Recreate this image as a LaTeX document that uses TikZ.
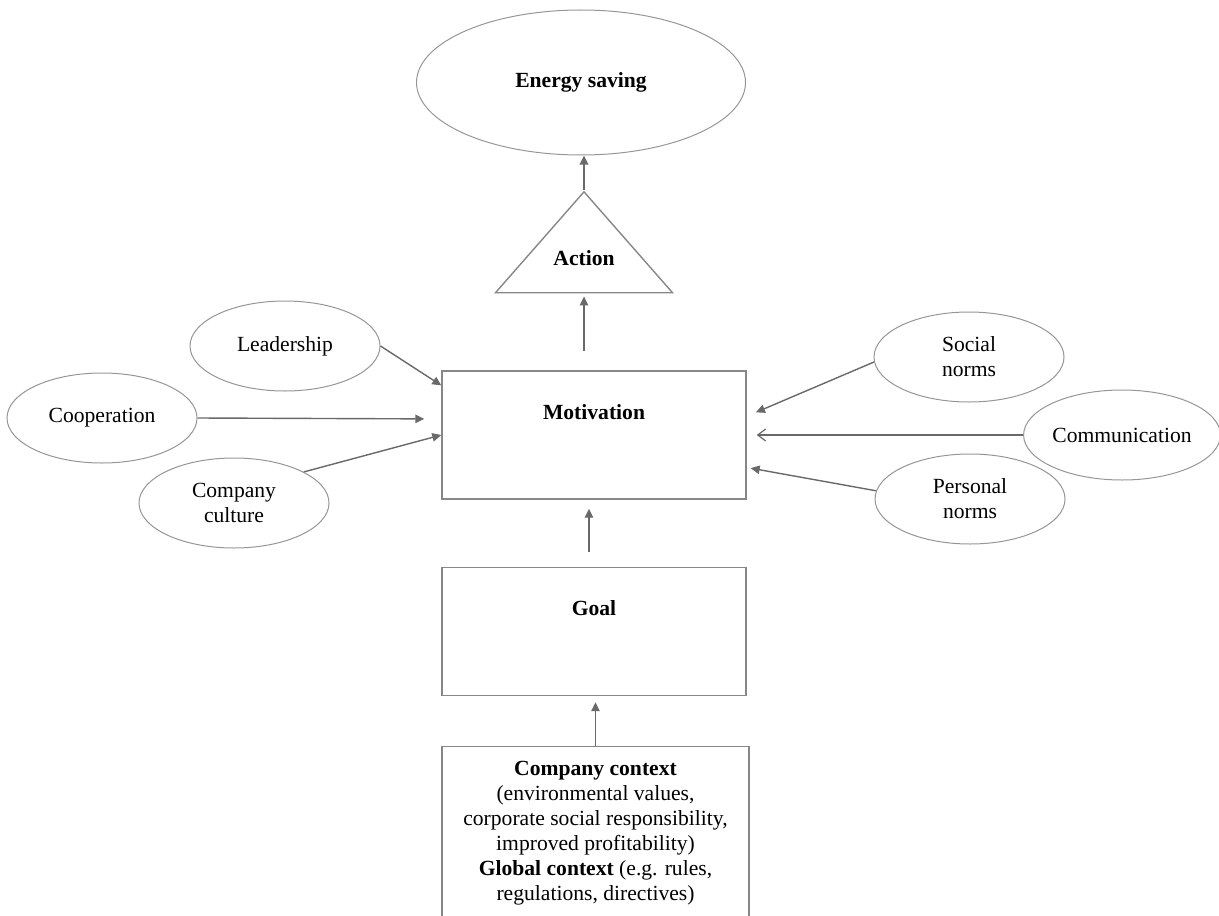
\documentclass[tikz,border=0pt]{standalone}
\usepackage{fontspec}
\setmainfont{Liberation Serif}
\usetikzlibrary{shapes.geometric, positioning, arrows.meta}
\definecolor{linegray}{RGB}{105,105,105}
\definecolor{boxgray}{RGB}{135,135,135}
\definecolor{ovalgray}{RGB}{150,150,150}

\begin{document}
\begin{tikzpicture}[
        x=0.5pt, y=-0.5pt,
        font=\fontsize{10.8pt}{12.5pt}\selectfont,
        oval/.style={ellipse, draw=ovalgray, line width=0.5pt, inner sep=0pt,
          minimum width=95pt, minimum height=45pt, align=center},
        box/.style={rectangle, draw=boxgray, line width=0.7pt, minimum width=152pt,
          minimum height=64pt, text height=8pt, text depth=24pt, font=\fontsize{10.8pt}{12.5pt}\selectfont\bfseries},
        arr/.style={draw=linegray, line width=0.7pt, -{Triangle[length=4.5pt, width=4.2pt]}},
        openarr/.style={draw=linegray, line width=0.6pt, -{Straight Barb[length=4pt, width=6pt]}}
      ]
      \useasboundingbox (0,0) rectangle (1219,915);
      \node[ellipse, draw=ovalgray, line width=0.5pt, minimum width=164.5pt, minimum height=72.5pt,
        font=\fontsize{10.8pt}{12.5pt}\selectfont\bfseries] (save) at (581,82.5) {Energy saving};
      \node[isosceles triangle, shape border rotate=90, isosceles triangle stretches, draw=boxgray,
        line width=0.7pt, inner sep=0pt, minimum width=88.5pt, minimum height=50pt, anchor=apex,
        text height=7.5pt, text depth=6pt,
        font=\fontsize{10.8pt}{12.5pt}\selectfont\bfseries] (act) at (584,190) {Action};
      \node[box] (mot) at (594,435) {Motivation};
      \node[box] (goal) at (594,631.5) {Goal};
      \node[draw=boxgray, line width=0.7pt, minimum width=153.5pt, minimum height=86pt, inner sep=0pt,
        align=center, anchor=north] (ctx) at (595.5,746)
        {\textbf{Company context}\\(environmental values,\\corporate social responsibility,\\improved profitability)\\
         \textbf{Global context} (e.g. rules,\\regulations, directives)};
      \node[oval] (lead) at (285,346) {Leadership};
      \node[oval] (coop) at (102,418) {Cooperation};
      \node[oval] (cult) at (234,503) {Company\\culture};
      \node[oval] (soc) at (969,357) {Social\\norms};
      \node[oval] (comm) at (1122,435) {Communication};
      \node[oval] (pers) at (970,499) {Personal\\norms};

      \draw[arr] (act.apex) -- (act.apex |- save.south);
      \draw[arr, shorten <=9.5pt, shorten >=1.5pt] (act.apex |- mot.north) -- (act.apex |- act.south);
      \draw[arr, shorten <=7.5pt, shorten >=4.5pt] ([xshift=-2.5pt]goal.north) -- ([xshift=-2.5pt]mot.south);
      \draw[arr, shorten >=3pt] (ctx.north) -- (ctx.north |- goal.south);
      \draw[arr] (lead.east) -- (mot.162);
      \draw[arr, shorten >=8.5pt] (coop.east) -- (mot.174);
      \draw[arr] (cult.24) -- (mot.west);
      \draw[arr, shorten >=5pt] (soc.183) -- (mot.7);
      \draw[openarr, shorten >=5pt] (comm.west) -- (mot.east);
      \draw[arr, shorten >=2pt] (pers.175) -- (mot.-12);
\end{tikzpicture}
\end{document}
